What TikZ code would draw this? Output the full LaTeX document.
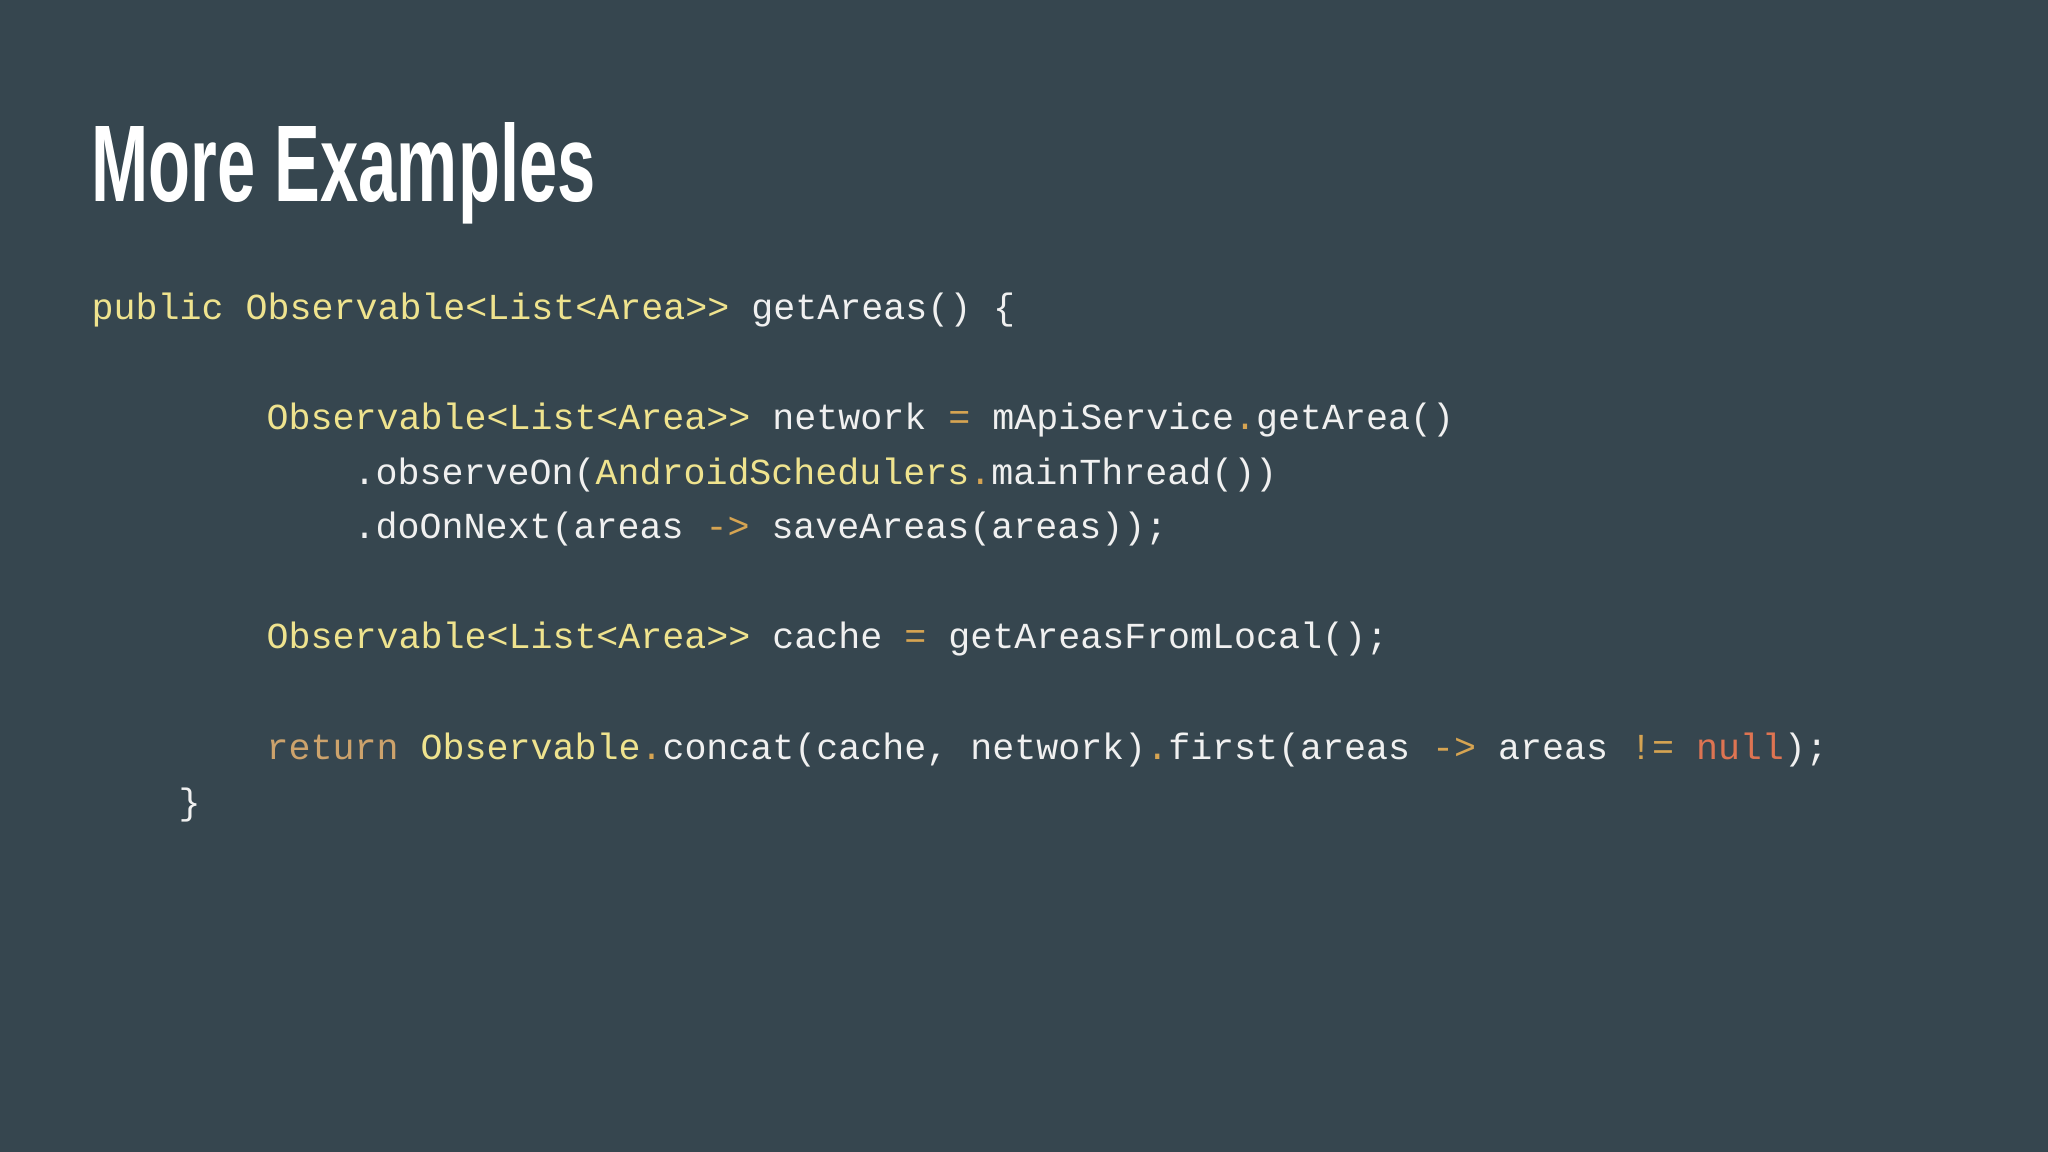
\documentclass[tikz,border=0pt]{standalone}
\usepackage{fontspec}
\usepackage{xcolor}
\newfontfamily\codefont{Liberation Mono}
\newfontfamily\titlefont{Liberation Sans}[FakeStretch=0.63]
\definecolor{bg}{HTML}{36464F}
\definecolor{kw}{HTML}{EFE38E}
\definecolor{op}{HTML}{D6A452}
\definecolor{ret}{HTML}{CDA36C}
\definecolor{nul}{HTML}{DE7452}
\definecolor{txt}{HTML}{F0F0F0}
\newcommand{\Yk}[1]{\textcolor{kw}{#1}}
\newcommand{\Op}[1]{\textcolor{op}{#1}}
\newcommand{\Rt}[1]{\textcolor{ret}{#1}}
\newcommand{\Nl}[1]{\textcolor{nul}{#1}}
\begin{document}
\begin{tikzpicture}[x=0.01cm,y=-0.01cm,
  code/.style={anchor=base west,inner sep=0pt,text=txt,font=\codefont\fontsize{10.42pt}{12pt}\selectfont}]
\fill[bg] (0,0) rectangle (2048,1152);
\useasboundingbox (0,0) rectangle (2048,1152);
\node[anchor=base west,inner sep=0pt,text=white,font=\titlefont\fontsize{31pt}{36pt}\selectfont\bfseries] (title) at (91,202) {More Examples};
\node[code] (l1) at (91,320) {\Yk{public Observable<List<Area>>} getAreas() \{};
\node[code] (l2) at (266,430) {\Yk{Observable<List<Area>>} network \Op{=} mApiService\Op{.}getArea()};
\node[code] (l3) at (353,485) {.observeOn(\Yk{AndroidSchedulers}\Op{.}mainThread())};
\node[code] (l4) at (353,539) {.doOnNext(areas \Op{->} saveAreas(areas));};
\node[code] (l5) at (266,649) {\Yk{Observable<List<Area>>} cache \Op{=} getAreasFromLocal();};
\node[code] (l6) at (266,759) {\Rt{return} \Yk{Observable}\Op{.}concat(cache, network)\Op{.}first(areas \Op{->} areas \Op{!=} \Nl{null});};
\node[code] (l7) at (178,814) {\}};
\end{tikzpicture}
\end{document}
